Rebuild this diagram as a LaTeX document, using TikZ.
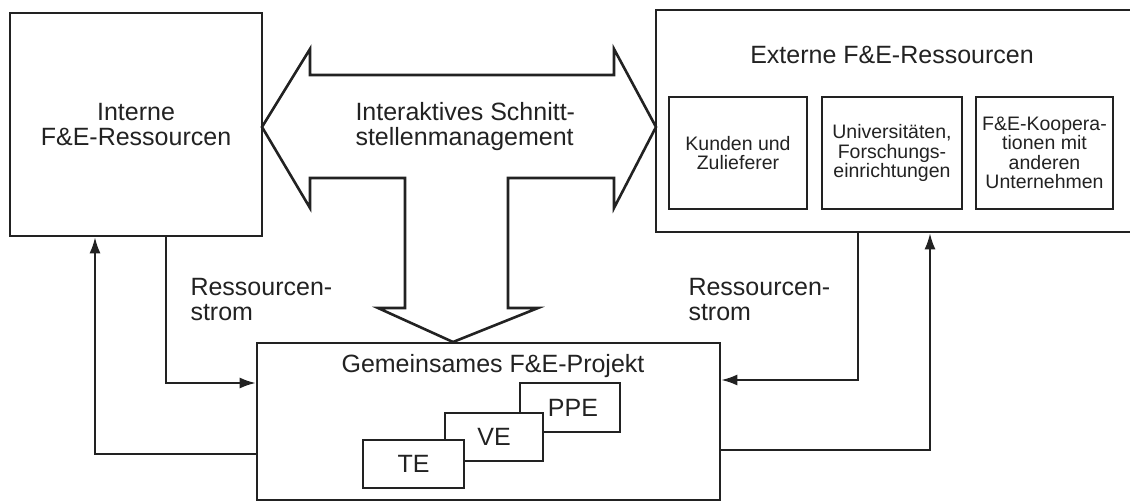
\documentclass[tikz,border=0pt]{standalone}
\usepackage{fontspec}
\setmainfont{Liberation Sans}
\usetikzlibrary{arrows.meta}
\definecolor{ink}{RGB}{34,34,34}
\begin{document}
\begin{tikzpicture}[x=1pt,y=-1pt,
  every node/.style={text=ink},
  box/.style={draw=ink, line width=2.6pt, fill=white, inner sep=0pt},
  big/.style={font=\fontsize{25}{25}\selectfont},
  small/.style={font=\fontsize{19.5}{19.5}\selectfont},
  flow/.style={draw=ink, line width=2pt, -{Latex[length=16pt,width=11pt]}},
  bigarrow/.style={draw=ink, line width=2.6pt, fill=white, line join=miter}
]
\useasboundingbox (0,0) rectangle (1130,502);

% main blocks
\node[box, big, minimum width=252pt, minimum height=223pt, align=center]
  (interne) at (136,124.5) {Interne\\F\&E-Ressourcen};
\node[box, minimum width=484pt, minimum height=222pt] (externe) at (898,121) {};
\node[big] (externetitle) at (892,55) {Externe F\&E-Ressourcen};
\node[box, small, minimum width=138pt, minimum height=112pt, align=center]
  (kunden) at (738,153) {Kunden und\\Zulieferer};
\node[box, small, minimum width=140pt, minimum height=112pt, align=center]
  (uni) at (892,153) {Universitäten,\\Forschungs-\\einrichtungen};
\node[box, small, minimum width=137pt, minimum height=112pt, align=center]
  (koop) at (1044.5,153) {F\&E-Kooper\-a-\\tionen mit\\anderen\\Unternehmen};

% interface management: double arrow with a downward branch
\draw[bigarrow] (262,127) -- (310,49) -- (310,75) -- (614,75) -- (614,49)
  -- (656,127) -- (614,208) -- (614,178) -- (508,178) -- (508,308)
  -- (538,308) -- (453,342) -- (378,308) -- (405,308) -- (405,178)
  -- (310,178) -- (310,208) -- cycle;
\node[big, align=left, anchor=west] (schnitt) at (352,127)
  {Interaktives Schnitt-\\stellenmanagement};

% joint project
\node[box, minimum width=463pt, minimum height=157pt] (projekt) at (488.5,421.5) {};
\node[big] (projekttitle) at (493,366) {Gemeinsames F\&E-Projekt};
\node[box, big, minimum width=100pt, minimum height=49pt, text width=100pt, align=center]
  (ppe) at (570,407.5) {\hspace*{6pt}PPE};
\node[box, big, minimum width=98pt, minimum height=48pt] (ve) at (494,437) {VE};
\node[box, big, minimum width=101pt, minimum height=48pt] (te) at (413.5,464) {TE};

% resource flows
\coordinate (l1) at (166,383);
\coordinate (l2) at (95,454);
\coordinate (r1) at (858,380);
\coordinate (r2) at (930,450);
\draw[flow] (interne.south -| l1) |- (projekt.west |- l1);
\draw[flow] (projekt.west |- l2) -| (interne.south -| l2);
\draw[flow] (externe.south -| r1) |- (projekt.east |- r1);
\draw[flow] (projekt.east |- r2) -| (externe.south -| r2);

\node[big, align=left, anchor=west] (stroml) at (187,300) {Ressourcen-\\strom};
\node[big, align=left, anchor=west] (stromr) at (685,300) {Ressourcen-\\strom};
\end{tikzpicture}
\end{document}
